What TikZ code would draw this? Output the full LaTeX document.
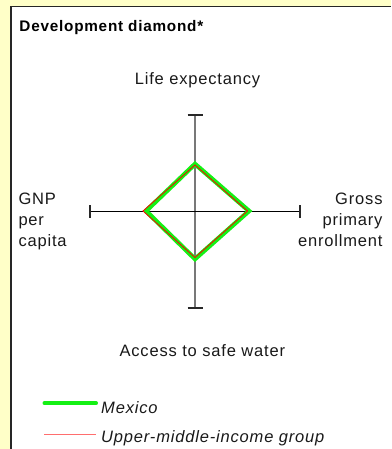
\documentclass[tikz,border=0pt]{standalone}
\usepackage{fontspec}
\setmainfont{Liberation Sans}
\newfontfamily\labfont[LetterSpace=5]{Liberation Sans}
\newfontfamily\ttlfont[LetterSpace=5]{Liberation Sans}
\definecolor{bgyellow}{RGB}{255,255,200}
\definecolor{mexgreen}{RGB}{20,240,20}
\definecolor{axisgray}{RGB}{120,120,120}
\definecolor{tickdark}{RGB}{40,40,40}
\definecolor{legred}{RGB}{255,110,110}
\begin{document}
\begin{tikzpicture}[x=1pt,y=-1pt,
  lab/.style={font=\labfont\fontsize{16.5}{21}\selectfont, inner sep=0pt, text=black!90},
  leg/.style={font=\labfont\itshape\fontsize{16.5}{21}\selectfont, inner sep=0pt, text=black!90},
  ttl/.style={font=\ttlfont\bfseries\fontsize{15.3}{18}\selectfont, inner sep=0pt, text=black},
  tick/.style={tickdark, line width=1.3pt},
  mexline/.style={mexgreen, line width=4.5pt, line join=miter},
  umiline/.style={red, line width=0.8pt, line join=miter}]
\useasboundingbox (0,0) rectangle (391,449);
\fill[bgyellow] (0,0) rectangle (391,449);
\fill[white] (11,6.5) rectangle (391,449);
\draw[line width=1.6pt, black!85] (11,449) -- (11,6.5) -- (391,6.5);

\node[ttl, anchor=base west] (title) at (19.3,31.3) {Development diamond*};

% axes
\coordinate (c) at (195,211);
\coordinate (ta) at (195,115);
\coordinate (ba) at (195,308);
\coordinate (la) at (90,211);
\coordinate (ra) at (300,211);
\draw[axisgray, line width=1.3pt] (ta) -- (ba);
\draw[black, line width=1pt] (la) -- (ra);
\draw[tick] ([xshift=-7.5pt]ta) -- ([xshift=7.5pt]ta);
\draw[tick] ([xshift=-7.5pt]ba) -- ([xshift=7.5pt]ba);
\draw[tick] ([yshift=-6.5pt]la) -- ([yshift=6.5pt]la);
\draw[tick] ([yshift=-6.5pt]ra) -- ([yshift=6.5pt]ra);

% diamonds
\draw[mexline] (195,164) -- (249,211) -- (195,259) -- (146,211) -- cycle;
\draw[umiline] (195,165) -- (247.5,211) -- (195,257.5) -- (143,211) -- cycle;

% axis labels
\node[lab, anchor=base] (life) at (197.5,84.5) {Life expectancy};
\node[lab, anchor=base] (water) at (202.3,356.7) {Access to safe water};
\node[lab, anchor=base west] (gnp1) at (18.3,204) {GNP};
\node[lab, anchor=base west] (gnp2) at (18.3,225) {per};
\node[lab, anchor=base west] (gnp3) at (18.3,246) {capita};
\node[lab, anchor=base east] (gpe1) at (382.7,204) {Gross};
\node[lab, anchor=base east] (gpe2) at (382.7,225) {primary};
\node[lab, anchor=base east] (gpe3) at (382.7,246) {enrollment};

% legend
\coordinate (m1) at (44.5,403.3);
\coordinate (m2) at (96,403.3);
\coordinate (u1) at (44.3,434.3);
\coordinate (u2) at (95.7,434.3);
\draw[mexgreen, line width=4pt, line cap=round] (m1) -- (m2);
\draw[legred, line width=1.2pt] (u1) -- (u2);
\node[leg, anchor=base west] (mex) at (101,413.3) {Mexico};
\node[leg, anchor=base west] (umi) at (101,442.7) {Upper-middle-income group};
\end{tikzpicture}
\end{document}
